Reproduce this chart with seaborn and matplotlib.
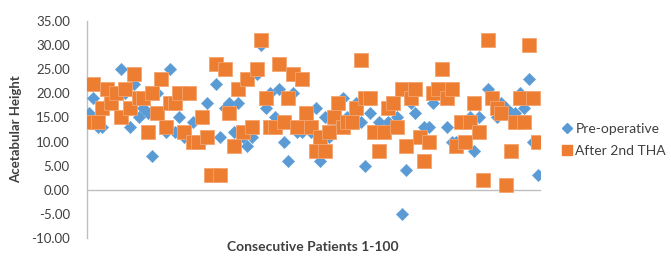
import matplotlib
matplotlib.use("Agg")
import matplotlib.pyplot as plt
from matplotlib.lines import Line2D
import numpy as np
import pandas as pd
import seaborn as sns

# Acetabular height per patient (1-100)
patients = list(range(1, 101))
pre_operative = [
    16, 19, 13, 13, 18, 18, 20, 25, 20, 13,
    22, 15, 17, 16, 7, 20, 23, 12, 25, 12,
    15, 11, 20, 14, 10, 10, 18, 3, 22, 11,
    17, 18, 12, 18, 11, 9, 11, 24, 30, 17,
    20, 15, 21, 10, 6, 20, 12, 12, 16, 12,
    17, 6, 15, 11, 13, 18, 19, 15, 14, 18,
    14, 5, 16, 12, 14, 12, 14, 18, 15, -5,
    4, 18, 16, 11, 13, 13, 18, 21, 25, 13,
    10, 10, 14, 10, 15, 8, 15, 2, 21, 19,
    15, 18, 17, 16, 16, 20, 17, 23, 10, 3,
]
after_2nd_tha = [
    14, 22, 14, 17, 21, 18, 20, 15, 21, 17,
    24, 19, 19, 12, 20, 16, 23, 13, 18, 18,
    20, 12, 20, 10, 10, 15, 11, 3, 26, 3,
    25, 16, 9, 21, 12, 23, 13, 25, 31, 19,
    13, 13, 26, 14, 19, 24, 13, 23, 16, 13,
    8, 11, 8, 12, 15, 18, 13, 14, 14, 17,
    27, 19, 19, 12, 8, 12, 17, 18, 13, 21,
    9, 19, 21, 11, 6, 10, 20, 21, 25, 19,
    21, 9, 14, 10, 14, 18, 12, 2, 31, 19,
    17, 16, 1, 8, 14, 19, 14, 30, 19, 10,
]
y_ticks = [-10, -5, 0, 5, 10, 15, 20, 25, 30, 35]

BLUE = "#5B9BD5"
ORANGE = "#ED7D31"

sns.set_theme(style="white")
plt.rcParams["font.family"] = ["Lato", "DejaVu Sans"]

df_pre = pd.DataFrame({"patient": patients, "height": pre_operative})
df_post = pd.DataFrame({"patient": patients, "height": after_2nd_tha})

fig = plt.figure(figsize=(6.71, 2.57), dpi=100)
ax = fig.add_axes([86.5 / 671, 1 - 238 / 257, 453.5 / 671, 217 / 257])

sns.scatterplot(data=df_pre, x="patient", y="height", marker="D", s=40,
                color=BLUE, edgecolor=BLUE, linewidth=0.3, ax=ax,
                legend=False, zorder=3)
sns.scatterplot(data=df_post, x="patient", y="height", marker="s", s=88,
                color=ORANGE, edgecolor="#F3A46F", linewidth=0.6, ax=ax,
                legend=False, zorder=4)

ax.set_xlim(0.5, 100.5)
ax.set_ylim(-10, 35)
ax.set_yticks(y_ticks)
ax.yaxis.set_major_formatter(matplotlib.ticker.FormatStrFormatter("%.2f"))
ax.set_xticks([])
ax.tick_params(axis="y", length=0, pad=12, labelsize=9.5, colors="#404040")

for side in ("top", "right"):
    ax.spines[side].set_visible(False)
ax.spines["bottom"].set_position(("data", 0))
ax.spines["left"].set_color("#BFBFBF")
ax.spines["bottom"].set_color("#BFBFBF")
ax.spines["left"].set_linewidth(1.0)
ax.spines["bottom"].set_linewidth(1.0)

ax.set_ylabel("Acetabular Height", fontsize=9.5, fontweight="bold", color="#404040")
ax.yaxis.set_label_coords(-0.143, 0.5)
ax.set_xlabel("")
fig.text(313 / 671, 1 - 247 / 257, "Consecutive Patients 1-100", ha="center",
         va="center", fontsize=10, fontweight="bold", color="#404040")

handles = [
    Line2D([], [], linestyle="none", marker="D", markersize=5,
           color=BLUE, label="Pre-operative"),
    Line2D([], [], linestyle="none", marker="s", markersize=7,
           color=ORANGE, label="After 2nd THA"),
]
leg = fig.legend(handles=handles, loc="center left",
                 bbox_to_anchor=(560 / 671, 1 - 140 / 257), frameon=False,
                 fontsize=10, handletextpad=0.1, labelspacing=0.7,
                 borderaxespad=0, borderpad=0, handlelength=1.0)
for t in leg.get_texts():
    t.set_color("#404040")

fig.savefig("out.png", dpi=100)
